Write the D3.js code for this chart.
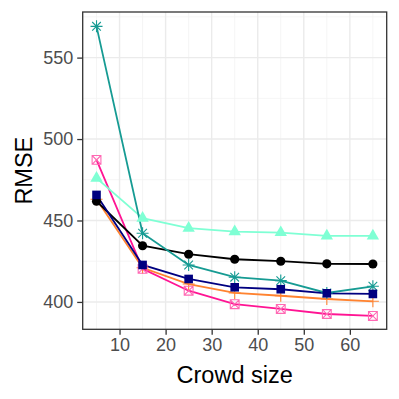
<!DOCTYPE html>
<html>
<head>
<meta charset="utf-8">
<script src="https://cdn.jsdelivr.net/npm/d3@7"></script>
<style>
  body { margin: 0; background: #fff; }
  svg { display: block; font-family: "Liberation Sans", Arial, sans-serif; }
</style>
</head>
<body>
<div id="chart"></div>
<script>
// crowd sizes on the x axis
const crowdSize = [5, 15, 25, 35, 45, 55, 65];
// RMSE per method
const blackVals = [461.8, 434.5, 429.3, 426.2, 425.0, 423.4, 423.3];
const aquaVals = [476.0, 451.4, 445.3, 443.2, 442.6, 440.5, 440.5];
const tealVals = [569.2, 442.2, 422.7, 415.2, 413.1, 405.5, 409.6];
const navyVals = [465.7, 422.7, 414.1, 409.0, 407.8, 405.3, 404.9];
const orangeVals = [463.0, 421.0, 411.0, 405.5, 403.8, 401.8, 400.4];
const pinkVals = [487.2, 420.3, 406.9, 398.6, 395.7, 392.6, 391.4];

const xTicks = [10, 20, 30, 40, 50, 60];
const yTicks = [400, 450, 500, 550];

const series = [
  { vals: orangeVals, color: "#FF8330", shape: "plus" },
  { vals: pinkVals, color: "#FF1493", shape: "boxx" },
  { vals: blackVals, color: "#000000", shape: "circle" },
  { vals: aquaVals, color: "#7FFFD4", shape: "triangle" },
  { vals: tealVals, color: "#169B93", shape: "asterisk" },
  { vals: navyVals, color: "#000080", shape: "square" }
];

const width = 399, height = 399;
const margin = { top: 12, left: 82.7, bottom: 69.7, right: 12.3 };

const svg = d3.select("#chart").append("svg")
  .attr("width", width)
  .attr("height", height);

const x = d3.scaleLinear().domain([2, 68]).range([margin.left, width - margin.right]);
const y = d3.scaleLinear().domain([383.2, 578.0]).range([height - margin.bottom, margin.top]);

const x0 = margin.left, x1 = width - margin.right;
const y0 = margin.top, y1 = height - margin.bottom;

// grid
const minorX = [5, 15, 25, 35, 45, 55, 65];
const minorY = [425, 475, 525, 575];
const grid = svg.append("g");
grid.selectAll(".mx").data(minorX).enter().append("line")
  .attr("x1", d => x(d)).attr("x2", d => x(d)).attr("y1", y0).attr("y2", y1)
  .attr("stroke", "#F2F2F2").attr("stroke-width", 0.8);
grid.selectAll(".my").data(minorY).enter().append("line")
  .attr("y1", d => y(d)).attr("y2", d => y(d)).attr("x1", x0).attr("x2", x1)
  .attr("stroke", "#F2F2F2").attr("stroke-width", 0.8);
grid.selectAll(".gx").data(xTicks).enter().append("line")
  .attr("x1", d => x(d)).attr("x2", d => x(d)).attr("y1", y0).attr("y2", y1)
  .attr("stroke", "#EBEBEB").attr("stroke-width", 1.4);
grid.selectAll(".gy").data(yTicks).enter().append("line")
  .attr("y1", d => y(d)).attr("y2", d => y(d)).attr("x1", x0).attr("x2", x1)
  .attr("stroke", "#EBEBEB").attr("stroke-width", 1.4);

// lines
const line = d3.line().x((d, i) => x(crowdSize[i])).y(d => y(d));
svg.append("g").selectAll("path").data(series).enter().append("path")
  .attr("d", s => line(s.vals))
  .attr("fill", "none")
  .attr("stroke", s => s.color)
  .attr("stroke-width", 1.8);

// marker shapes
function markerPath(shape) {
  const p = d3.path();
  if (shape === "plus") {
    p.moveTo(-6, 0); p.lineTo(6, 0); p.moveTo(0, -6); p.lineTo(0, 6);
  } else if (shape === "boxx") {
    const r = 4.4;
    p.rect(-r, -r, 2 * r, 2 * r);
    p.moveTo(-r, -r); p.lineTo(r, r); p.moveTo(-r, r); p.lineTo(r, -r);
  } else if (shape === "asterisk") {
    const r = 6, q = r * 0.72;
    p.moveTo(-r, 0); p.lineTo(r, 0); p.moveTo(0, -r); p.lineTo(0, r);
    p.moveTo(-q, -q); p.lineTo(q, q); p.moveTo(-q, q); p.lineTo(q, -q);
  }
  return p.toString();
}

const pts = svg.append("g");
series.forEach(s => {
  const g = pts.append("g");
  const sel = g.selectAll("path").data(s.vals).enter().append("path")
    .attr("transform", (d, i) => `translate(${x(crowdSize[i])},${y(d)})`);
  if (s.shape === "circle") {
    sel.attr("d", d3.symbol(d3.symbolCircle, 66)).attr("fill", s.color);
  } else if (s.shape === "square") {
    sel.attr("d", d3.symbol(d3.symbolSquare, 74)).attr("fill", s.color);
  } else if (s.shape === "triangle") {
    sel.attr("d", d3.symbol(d3.symbolTriangle, 66)).attr("fill", s.color);
  } else {
    sel.attr("d", markerPath(s.shape))
      .attr("fill", "none")
      .attr("stroke", s.shape === "boxx" ? "#FF69B4" : s.color)
      .attr("stroke-width", 1.1);
  }
});

// panel border
svg.append("rect")
  .attr("x", x0).attr("y", y0).attr("width", x1 - x0).attr("height", y1 - y0)
  .attr("fill", "none").attr("stroke", "#333333").attr("stroke-width", 1.3);

// axes
const xAxis = svg.append("g")
  .attr("transform", `translate(0,${y1})`)
  .call(d3.axisBottom(x).tickValues(xTicks).tickSize(5.5).tickPadding(3));
const yAxis = svg.append("g")
  .attr("transform", `translate(${x0},0)`)
  .call(d3.axisLeft(y).tickValues(yTicks).tickSize(5.5).tickPadding(4));
[xAxis, yAxis].forEach(a => {
  a.select(".domain").remove();
  a.selectAll(".tick line").attr("stroke", "#333333").attr("stroke-width", 1.3);
  a.selectAll(".tick text").attr("fill", "#4D4D4D")
    .style("font-size", "18px").style("font-family", "'Liberation Sans', Arial, sans-serif");
});

// axis titles
svg.append("text")
  .attr("x", (x0 + x1) / 2).attr("y", 382.5)
  .attr("text-anchor", "middle")
  .style("font-size", "23.5px")
  .text("Crowd size");
svg.append("text")
  .attr("transform", `translate(32,${(y0 + y1) / 2}) rotate(-90)`)
  .attr("text-anchor", "middle")
  .style("font-size", "23.5px")
  .text("RMSE");
</script>
</body>
</html>
